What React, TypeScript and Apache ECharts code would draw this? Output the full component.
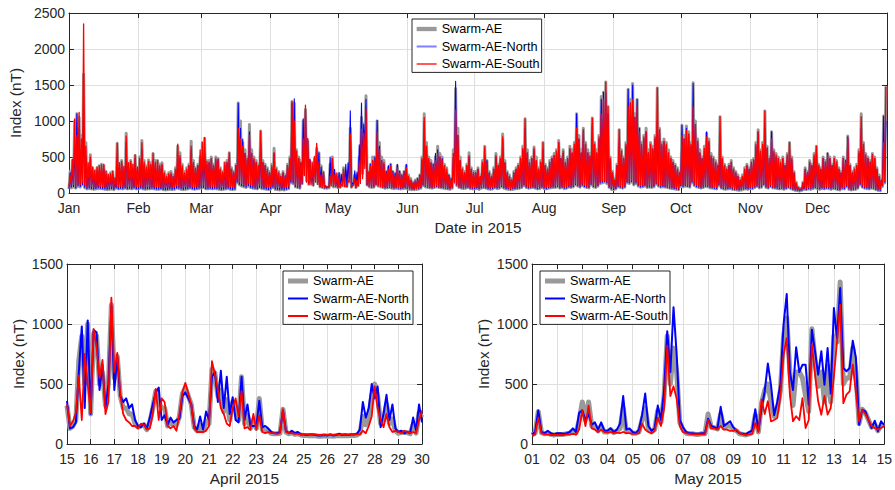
import React, { useEffect, useRef } from "react";
import * as echarts from "echarts";

const FONT = "'Liberation Sans', Arial, Helvetica, sans-serif";
const INK = "#262626";
const GRID_LINE = "#dfdfdf";
const GRAY = "#999999";
const BLUE = "#0000ff";
const RED = "#ff0000";

// ---------- top panel: whole year 2015, day index 0..364 ----------
const monthLabels = ["Jan", "Feb", "Mar", "Apr", "May", "Jun", "Jul", "Aug", "Sep", "Oct", "Nov", "Dec"];
const monthStartDays = [0, 31, 59, 90, 120, 151, 181, 212, 243, 273, 304, 334];

// daily maxima (nT)
const aePeaks = [
  300,450,1000,1100,1050,800,1650,700,400,530,350,300,350,380,400,380,300,250,280,300,200,690,400,450,350,830,400,450,380,520,350,
  500,730,450,380,460,420,550,450,450,400,420,300,250,280,300,250,350,650,560,400,300,350,400,720,450,350,400,500,
  700,760,450,450,500,400,500,480,350,300,420,450,560,350,300,400,1250,1000,700,600,500,950,600,500,450,400,860,450,400,350,300,
  400,620,350,300,250,300,250,400,500,1270,1250,600,500,450,1000,1160,730,440,300,470,620,560,380,290,90,80,400,500,260,220,
  270,200,350,300,300,900,120,250,240,500,1050,960,1350,290,400,500,500,1000,700,500,450,300,350,400,300,250,380,300,250,300,380,
  250,200,150,180,200,250,500,1100,700,500,450,400,500,650,550,500,400,350,250,200,600,1450,900,500,350,300,400,560,350,300,
  300,350,250,450,650,450,300,250,350,550,400,500,820,450,300,250,200,300,350,400,500,650,1030,600,450,500,640,500,350,450,700,
  400,350,450,500,550,600,730,500,600,450,500,650,600,700,1100,800,600,900,700,600,550,1040,700,600,800,1340,1400,1540,1200,500,300,
  200,400,880,600,500,700,1440,1300,1520,1100,1300,900,700,800,900,600,700,650,800,1460,900,700,750,700,600,500,450,400,350,300,
  940,800,930,850,700,1530,1000,750,600,500,650,830,750,550,500,450,400,1060,500,400,350,400,450,350,300,250,200,250,350,400,350,
  450,480,700,880,600,700,1140,650,500,850,600,550,500,450,500,400,550,700,500,300,150,80,60,150,350,300,450,400,550,650,
  400,350,500,450,550,500,400,500,450,350,300,500,450,790,400,300,350,400,600,1100,700,550,500,450,550,500,350,250,200,1070,1480,
];
const northPeaks = [
  280,350,700,1100,900,600,1200,500,300,450,300,250,300,320,350,330,260,220,250,260,180,500,350,400,300,700,350,420,330,480,300,
  400,600,380,330,400,380,450,400,380,350,380,260,220,250,260,230,300,520,480,350,260,320,380,600,400,330,380,450,
  500,550,400,420,480,380,450,470,330,280,380,420,500,330,280,380,1250,900,750,550,450,850,550,450,420,380,700,420,380,330,280,
  350,550,330,280,230,280,240,380,450,1250,1310,550,480,420,1030,1150,720,470,240,430,610,560,360,280,100,85,500,480,330,180,
  280,260,300,400,420,1140,140,310,290,670,1250,950,1300,290,400,450,500,1010,650,450,400,300,380,400,300,280,400,300,250,300,400,
  220,180,140,170,200,250,450,1000,650,450,420,400,550,600,500,480,380,300,250,200,500,1550,800,450,330,280,380,500,330,280,
  280,330,230,420,500,450,280,230,330,500,380,480,750,420,280,230,180,280,330,380,480,600,900,550,420,480,600,450,330,420,600,
  380,330,420,480,520,550,700,480,550,420,480,600,550,650,1100,750,550,850,650,550,500,950,650,550,750,1300,1400,1400,1100,450,280,
  180,380,700,550,480,650,1440,1250,1500,1050,1300,900,650,750,850,550,650,600,750,1000,850,650,700,650,550,480,420,380,330,280,
  940,750,900,800,650,1520,950,700,550,480,600,850,700,500,480,420,380,800,450,380,330,380,420,330,280,230,180,230,330,380,330,
  420,460,650,850,550,650,900,620,480,850,550,500,480,420,480,380,500,600,450,280,130,70,55,140,330,280,420,380,500,600,
  380,330,480,430,550,480,380,480,430,330,280,480,450,780,380,280,330,380,550,900,650,500,480,430,530,480,330,230,180,1070,1000,
];
const southPeaks = [
  250,470,1030,800,1120,750,2350,650,420,500,360,320,360,380,390,400,300,260,270,300,210,690,420,440,370,790,420,440,400,530,360,
  480,700,430,360,440,400,550,430,450,380,400,280,230,270,280,230,330,680,520,380,280,330,380,650,420,340,380,600,
  700,770,440,430,480,380,480,450,330,290,420,430,560,330,290,380,900,750,650,550,480,800,550,480,430,380,860,430,380,330,280,
  380,560,330,280,230,280,230,380,480,1270,1000,580,480,430,750,1220,760,460,430,510,690,440,250,290,90,85,230,480,250,280,
  220,120,330,100,170,820,100,200,175,400,883,830,1161,290,380,450,450,850,600,450,420,280,330,380,280,240,350,280,230,280,350,
  230,180,140,160,180,230,480,1050,650,480,420,380,450,550,500,450,380,330,230,180,550,1150,800,450,330,280,380,520,330,280,
  280,330,230,430,640,420,280,230,330,520,380,480,780,420,280,230,180,280,330,380,480,620,1030,560,420,480,620,450,330,430,700,
  380,330,430,480,520,580,700,480,580,420,480,620,560,680,900,750,560,880,680,560,520,1040,680,560,780,1100,1300,1540,1200,480,280,
  180,380,880,580,480,680,1200,1250,1300,1050,1200,850,680,780,850,560,680,620,780,1460,880,680,720,680,560,480,430,380,330,280,
  800,750,880,820,680,1200,950,720,560,480,620,780,720,520,480,430,380,1060,480,380,330,380,430,330,280,230,180,230,330,380,330,
  430,450,680,850,580,680,1140,630,480,750,580,530,480,430,480,380,530,700,480,280,140,75,55,140,330,280,430,380,530,650,
  380,330,480,430,530,480,380,480,430,330,280,480,430,760,380,280,330,380,580,1060,680,530,480,430,530,480,330,230,180,700,1480,
];
// daily minima (nT)
const aeLows = [
  55,70,80,65,90,80,110,70,55,60,55,50,55,60,60,55,50,45,50,55,45,65,55,60,55,65,55,60,55,65,55,
  55,65,55,50,55,55,60,55,50,50,55,45,40,45,50,45,50,65,60,50,45,50,55,65,55,50,55,60,
  65,75,55,55,60,55,60,55,50,45,50,55,60,50,45,50,140,110,95,85,75,95,75,65,60,55,75,60,55,50,45,
  55,75,50,45,40,45,40,50,60,140,130,85,75,65,130,250,170,120,150,110,170,130,85,75,65,65,70,110,85,85,
  75,80,100,95,90,180,80,125,75,100,320,270,500,110,85,75,80,110,95,85,75,65,70,75,65,60,65,60,55,60,65,
  55,50,45,45,50,55,65,100,85,75,70,65,75,85,75,70,65,60,55,50,65,140,100,75,65,60,65,75,60,55,
  55,60,50,65,75,65,55,50,55,70,60,65,85,65,55,50,45,50,55,60,65,75,100,75,65,70,75,65,55,60,75,
  60,55,65,70,75,75,85,65,75,60,65,80,75,85,110,95,80,100,85,75,70,110,85,75,95,130,140,150,130,75,50,
  45,55,85,75,65,80,140,130,150,110,130,95,80,85,95,75,80,75,85,120,95,80,85,80,75,65,60,55,50,45,
  95,85,95,90,80,140,100,85,75,65,75,90,85,70,65,60,55,100,65,55,50,55,60,50,45,40,35,40,50,55,50,
  60,60,75,90,70,80,110,75,65,90,70,65,60,55,60,50,60,75,60,45,35,30,25,35,50,45,55,50,60,70,
  55,50,60,55,65,60,50,60,55,45,40,60,55,85,50,40,45,50,65,110,80,65,60,55,65,60,45,35,30,90,140,
];
const northLows = [
  60,80,90,70,100,90,120,80,60,70,60,55,60,70,65,60,55,50,55,60,50,70,60,65,60,70,60,65,60,70,60,
  60,70,60,55,60,60,65,60,55,55,60,50,45,50,55,50,55,70,65,55,50,55,60,70,60,55,60,65,
  70,80,60,60,65,60,65,60,55,50,55,60,65,55,50,55,150,120,100,90,80,100,80,70,65,60,80,65,60,55,50,
  60,80,55,50,45,50,45,55,65,150,140,90,80,70,130,250,320,130,160,120,200,150,90,80,70,70,80,140,90,90,
  80,85,110,100,90,200,85,130,80,110,360,330,600,110,90,80,85,120,100,90,80,70,75,80,70,65,70,65,60,65,70,
  60,55,50,50,55,60,70,110,90,80,75,70,80,90,80,75,70,65,60,55,70,150,110,80,70,65,70,80,65,60,
  60,65,55,70,80,70,60,55,60,75,65,70,90,70,60,55,50,55,60,65,70,80,110,80,70,75,80,70,60,65,80,
  65,60,70,75,80,80,90,70,80,65,70,85,80,90,120,100,85,110,90,80,75,120,90,80,100,140,150,160,140,80,55,
  50,60,90,80,70,85,150,140,160,120,140,100,85,90,100,80,85,80,90,130,100,85,90,85,80,70,65,60,55,50,
  100,90,100,95,85,150,110,90,80,70,80,95,90,75,70,65,60,110,70,60,55,60,65,55,50,45,40,45,55,60,55,
  65,65,80,95,75,85,120,80,70,95,75,70,65,60,65,55,65,80,65,50,40,35,30,40,55,50,60,55,65,75,
  60,55,65,60,70,65,55,65,60,50,45,65,60,90,55,45,50,55,70,120,85,70,65,60,70,65,50,40,35,100,150,
];
const southLows = [
  90,110,120,100,130,120,150,110,90,100,90,85,90,100,95,90,85,80,85,90,80,100,90,95,90,100,90,95,90,100,90,
  90,100,90,85,90,90,95,90,85,85,90,80,75,80,85,80,85,100,95,85,80,85,90,100,90,85,90,95,
  100,110,90,90,95,90,95,90,85,80,85,90,95,85,80,85,180,150,130,120,110,130,110,100,95,90,110,95,90,85,80,
  90,110,85,80,75,80,75,85,95,180,160,110,100,90,150,250,150,120,110,100,150,120,85,80,75,75,80,100,90,90,
  70,75,100,90,85,150,80,110,75,100,133,200,340,120,90,85,90,120,100,90,85,80,85,90,80,75,80,75,70,75,80,
  70,65,60,60,65,70,80,120,100,90,85,80,90,100,90,85,80,75,70,65,80,150,120,90,80,75,80,90,75,70,
  75,80,70,85,95,85,75,70,75,90,80,85,105,85,75,70,65,70,75,80,85,95,125,95,85,90,95,85,75,80,95,
  80,75,85,90,95,95,105,85,95,80,85,100,95,105,135,115,100,125,105,95,90,135,105,95,115,155,165,175,155,95,70,
  65,75,105,95,85,100,165,155,175,135,155,115,100,105,115,95,100,95,105,145,115,100,105,100,95,85,80,75,70,65,
  115,105,115,110,100,165,125,105,95,85,95,110,105,90,85,80,75,125,85,75,70,75,80,70,65,60,55,60,70,75,70,
  80,80,95,110,90,100,135,95,85,110,90,85,80,75,80,70,80,95,80,65,55,45,40,55,70,65,75,70,80,90,
  75,70,80,75,85,80,70,80,75,65,60,80,75,105,70,60,65,70,85,135,100,85,80,75,85,80,65,55,50,110,160,
];

// ---------- bottom-left: 15-30 April 2015, 3-hourly ----------
const aprilStartDay = 15;
const aprilAE = [
  320,130,150,200,700,900,500,1000, 250,920,900,500,600,320,500,1160,
  550,730,400,300,300,250,250,170, 140,150,160,120,180,300,440,350,
  300,300,150,180,160,160,230,420, 470,400,330,140,110,160,110,190,
  170,620,590,400,450,270,370,200, 350,300,200,560,170,240,130,200,
  130,380,120,110,110,90,85,85, 90,290,100,85,95,80,85,75,
  70,70,68,70,68,65,65,68, 65,68,65,68,70,68,70,68,
  70,70,75,90,230,160,220,400, 500,400,170,200,330,170,210,110,
  90,95,95,95,85,160,90,260, 220,
];
const aprilNorth = [
  360,130,140,180,600,980,300,1030, 250,950,930,450,660,300,500,1150,
  450,720,400,350,380,300,330,200, 150,140,170,130,220,330,430,470,
  200,240,160,220,180,200,210,400, 430,380,330,150,120,230,120,270,
  200,560,600,350,610,300,560,250, 390,200,180,560,200,330,150,150,
  150,360,140,150,130,100,90,90, 100,280,110,90,110,90,100,80,
  80,75,80,80,75,70,70,75, 70,80,70,75,85,75,80,75,
  80,80,85,120,350,220,300,500, 380,480,140,250,410,200,330,130,
  100,110,90,100,90,220,110,330, 180,
];
const aprilSouth = [
  330,150,190,260,570,200,750,500, 260,960,800,550,700,250,350,1220,
  600,760,420,250,200,180,150,150, 130,170,160,120,130,250,460,200,
  380,350,150,130,150,110,250,430, 510,420,330,130,100,100,100,110,
  150,690,580,450,300,250,170,150, 300,380,230,440,130,140,120,250,
  120,240,100,90,100,90,90,85, 90,290,100,90,90,85,85,80,
  80,80,78,80,78,75,75,78, 75,78,75,78,80,78,80,78,
  80,80,80,80,110,90,150,230, 480,300,200,140,250,140,100,110,
  100,90,110,100,90,100,90,200, 280,
];

// ---------- bottom-right: 1-15 May 2015, 3-hourly ----------
const mayStartDay = 1;
const mayAE = [
  75,90,270,95,85,90,80,75, 80,80,80,85,90,110,90,200,
  350,200,350,150,150,110,150,100, 100,120,95,110,130,300,100,110,
  90,90,100,200,300,130,100,120, 280,180,400,900,500,800,600,180,
  120,90,85,85,80,80,85,85, 250,140,135,125,250,135,150,150,
  125,110,85,80,75,85,95,240, 100,340,450,500,350,230,280,450,
  900,1050,600,320,600,600,550,400, 270,960,700,480,600,350,650,350,
  900,850,1350,500,550,550,800,600, 170,290,260,200,140,160,110,160,
  150,
];
const mayNorth = [
  80,100,280,100,90,110,90,80, 90,90,85,90,100,130,100,260,
  280,200,250,160,180,120,180,110, 110,130,100,120,170,400,120,130,
  100,90,120,240,420,150,110,130, 320,200,450,940,600,1140,750,200,
  140,100,90,90,85,85,90,90, 210,150,140,130,310,150,170,190,
  140,110,90,85,80,100,110,290, 110,300,440,670,490,240,350,500,
  1000,1250,600,450,806,600,660,661, 328,953,772,578,772,494,800,420,
  1133,883,1300,633,606,633,861,717, 161,286,272,200,133,194,106,189,
  160,
];
const maySouth = [
  70,80,220,90,80,80,75,75, 75,75,75,80,80,85,80,120,
  280,150,320,130,120,100,120,100, 95,100,90,95,90,100,90,90,
  85,85,90,170,120,100,90,110, 220,150,300,820,400,480,380,150,
  100,90,85,80,80,80,80,80, 200,130,130,120,150,120,120,110,
  110,120,90,80,75,80,85,175, 100,369,250,356,189,200,217,400,
  744,883,411,189,231,200,383,133, 200,830,578,356,244,400,244,300,
  564,856,1161,340,411,439,661,430, 189,286,250,200,150,133,120,133,
  150,
];

function dailyTrace(peaks: number[], lows: number[]) {
  const pts: number[][] = [];
  for (let d = 0; d < peaks.length; d++) {
    pts.push([d, lows[Math.min(d, lows.length - 1)]]);
    pts.push([d + 0.5, peaks[d]]);
  }
  return pts;
}
function threeHourly(start: number, values: number[]) {
  return values.map((v, i) => [start + i / 8, v]);
}

const tickLabel = { color: INK, fontFamily: FONT, fontSize: 14 };
const nameStyle = { color: INK, fontFamily: FONT, fontSize: 15.4 };

function xPair(grid: number, min: number, max: number, extra: any, labelFmt: (v: number) => string, name: string) {
  const base = {
    type: "value", gridIndex: grid, min, max,
    axisLine: { show: true, onZero: false, lineStyle: { color: INK, width: 1 } },
  };
  return [
    {
      ...base, position: "bottom", ...extra.main,
      axisTick: { show: true, inside: true, length: 5, lineStyle: { color: INK }, ...(extra.tick || {}) },
      axisLabel: { show: true, margin: 8, formatter: labelFmt, ...tickLabel, ...(extra.label || {}) },
      splitLine: { show: true, lineStyle: { color: GRID_LINE, width: 1 } },
      name, nameLocation: "middle", nameGap: 27, nameTextStyle: nameStyle,
    },
    {
      ...base, position: "top", ...extra.main,
      axisTick: { show: true, inside: true, length: 5, lineStyle: { color: INK }, ...(extra.tick || {}) },
      axisLabel: { show: false },
      splitLine: { show: false },
    },
  ];
}
function yPair(grid: number, max: number) {
  const base = {
    type: "value", gridIndex: grid, min: 0, max, interval: 500,
    axisLine: { show: true, onZero: false, lineStyle: { color: INK, width: 1 } },
    axisTick: { show: true, inside: true, length: 5, lineStyle: { color: INK } },
  };
  return [
    {
      ...base, position: "left",
      axisLabel: { show: true, margin: 4, formatter: (v: number) => String(v), ...tickLabel },
      splitLine: { show: true, lineStyle: { color: GRID_LINE, width: 1 } },
      name: "Index (nT)", nameLocation: "middle", nameGap: 41, nameTextStyle: nameStyle,
    },
    { ...base, position: "right", axisLabel: { show: false }, splitLine: { show: false } },
  ];
}

function legendBox(left: number, top: number, widths: number[], northColor: string) {
  return {
    orient: "vertical", left, top,
    padding: [3.5, 2, 1.9, 2.5],
    itemGap: 4.5, itemWidth: 20, itemHeight: 13,
    backgroundColor: "#ffffff", borderColor: INK, borderWidth: 1, borderRadius: 0,
    selectedMode: false,
    textStyle: { fontFamily: FONT, fontSize: 12.7, color: "#000000" },
    itemStyle: { opacity: 0 },
    data: [
      { name: "Swarm-AE", lineStyle: { color: GRAY, width: widths[0] } },
      { name: "Swarm-AE-North", lineStyle: { color: northColor, width: widths[1] } },
      { name: "Swarm-AE-South", lineStyle: { color: RED, width: widths[2] } },
    ],
  };
}

function line(name: string, color: string, width: number, xi: number, data: number[][], z: number) {
  return {
    type: "line", name, xAxisIndex: xi, yAxisIndex: xi, data,
    symbol: "none", showSymbol: false, silent: true, z,
    lineStyle: { color, width, join: "round" }, itemStyle: { color },
  };
}

const option: any = {
  animation: false,
  backgroundColor: "#ffffff",
  grid: [
    { left: 67, top: 13, width: 820, height: 180 },
    { left: 67, top: 264, width: 355, height: 180 },
    { left: 532, top: 264, width: 355, height: 180 },
  ],
  xAxis: [
    ...xPair(0, 0, 365,
      { tick: { customValues: monthStartDays }, label: { customValues: monthStartDays } },
      (v: number) => monthLabels[monthStartDays.indexOf(Math.round(v))] ?? "",
      "Date in 2015"),
    ...xPair(1, 15, 30, { main: { interval: 1 } }, (v: number) => String(v), "April 2015"),
    ...xPair(2, 1, 15, { main: { interval: 1 } }, (v: number) => String(v).padStart(2, "0"), "May 2015"),
  ],
  yAxis: [...yPair(0, 2500), ...yPair(1, 1500), ...yPair(2, 1500)],
  legend: [
    legendBox(412, 19, [4.3, 2, 1.3], "#7f7fff"),
    legendBox(283, 271, [5, 2, 2], BLUE),
    legendBox(540, 271, [5, 2, 2], BLUE),
  ],
  series: [
    line("Swarm-AE", GRAY, 3, 0, dailyTrace(aePeaks, aeLows), 2),
    line("Swarm-AE-North", BLUE, 1.1, 0, dailyTrace(northPeaks, northLows), 3),
    line("Swarm-AE-South", RED, 1.3, 0, dailyTrace(southPeaks, southLows), 4),
    line("Swarm-AE", GRAY, 5, 2, threeHourly(aprilStartDay, aprilAE), 2),
    line("Swarm-AE-North", BLUE, 2, 2, threeHourly(aprilStartDay, aprilNorth), 3),
    line("Swarm-AE-South", RED, 1.8, 2, threeHourly(aprilStartDay, aprilSouth), 4),
    line("Swarm-AE", GRAY, 5, 4, threeHourly(mayStartDay, mayAE), 2),
    line("Swarm-AE-North", BLUE, 2, 4, threeHourly(mayStartDay, mayNorth), 3),
    line("Swarm-AE-South", RED, 1.8, 4, threeHourly(mayStartDay, maySouth), 4),
  ],
};

export default function App() {
  const ref = useRef<HTMLDivElement>(null);
  useEffect(() => {
    if (!ref.current) return;
    const chart = echarts.init(ref.current, null, { renderer: "svg" });
    chart.setOption(option);
    return () => chart.dispose();
  }, []);
  return (
    <div
      ref={ref}
      style={{ position: "fixed", left: 0, top: 0, width: 895, height: 490, background: "#ffffff" }}
    />
  );
}
